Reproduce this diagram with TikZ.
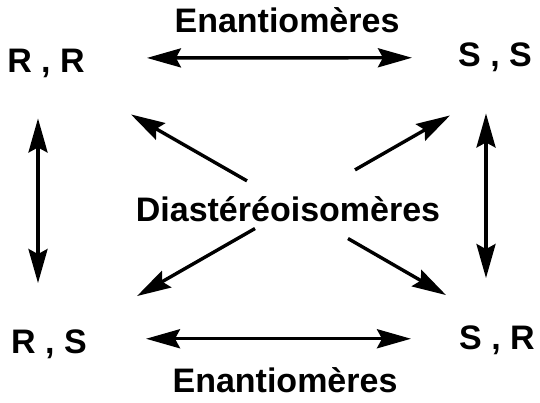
\documentclass[tikz,border=0pt]{standalone}
\usepackage{fontspec}
\setmainfont{Liberation Sans}
\usetikzlibrary{arrows.meta, positioning, calc}
\tikzset{every node/.append style={align=center, inner sep=0pt}}

\begin{document}
\begin{tikzpicture}[
    x=1pt, y=-1pt,
    lbl/.style={font=\fontsize{34}{40}\selectfont\bfseries, anchor=base},
    a/.style={-{Stealth[length=34pt, width=19pt, inset=5pt]}, line width=3.4pt},
    dbl/.style={{Stealth[length=34pt, width=19pt, inset=5pt]}-{Stealth[length=34pt, width=19pt, inset=5pt]}, line width=3.4pt}
]
\useasboundingbox (0,0) rectangle (540,403);
% ===== CONFIGURATIONS =====
\node[lbl] (rr) at (46,73)  {R , R};
\node[lbl] (ss) at (495,67) {S , S};
\node[lbl] (rs) at (49,353) {R , S};
\node[lbl] (sr) at (497,349) {S , R};
% ===== RELATIONS =====
\node[lbl] (enTop) at (287,33)  {Enantiomères};
\node[lbl] (enBot) at (285,392) {Enantiomères};
\node[lbl] (dia)   at (288,222) {Diastéréoisomères};
% enantiomeres
\draw[dbl] ([xshift=62pt, yshift=6pt]rr.east) -- ([xshift=-46pt]ss.west);
\draw[dbl] ([xshift=59pt, yshift=5pt]rs.east) -- ([xshift=-48pt, yshift=1pt]sr.west);
% diastereoisomeres (verticales)
\draw[dbl] ([xshift=-8pt, yshift=-40pt]rr.south) -- ([xshift=-11pt, yshift=46pt]rs.north);
\draw[dbl] ([xshift=-9pt, yshift=-41pt]ss.south) -- ([xshift=-11pt, yshift=47pt]sr.north);
% diastereoisomeres (diagonales)
\draw[a] ([xshift=-41pt, yshift=16pt]dia.north) -- ([xshift=85pt, yshift=-36pt]rr.south);
\draw[a] ([xshift=67pt, yshift=27pt]dia.north) -- ([xshift=-45pt, yshift=-43pt]ss.south);
\draw[a] ([xshift=-33pt, yshift=-6pt]dia.south) -- ([xshift=88pt, yshift=33pt]rs.north);
\draw[a] ([xshift=60pt, yshift=-16pt]dia.south) -- ([xshift=-51pt, yshift=30pt]sr.north);
\end{tikzpicture}
\end{document}
